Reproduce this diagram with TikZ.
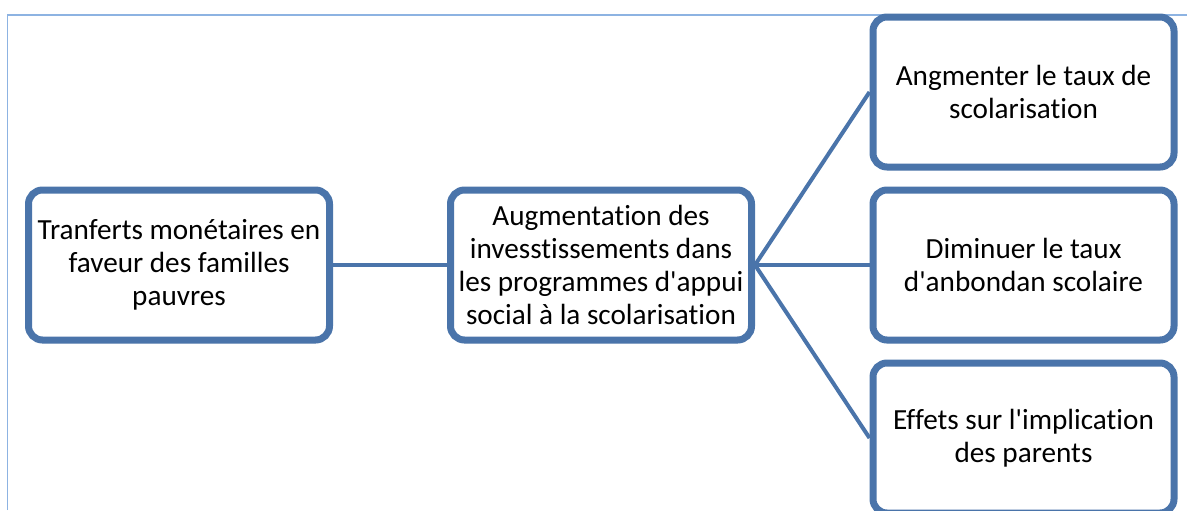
\documentclass[tikz,border=0pt]{standalone}
\usepackage{fontspec}
\newfontfamily\boxfont{Carlito}[Ligatures=CommonOff]
\usetikzlibrary{shadows}

\definecolor{boxblue}{RGB}{74,116,170}
\definecolor{frameblue}{RGB}{141,179,226}

\tikzset{
    stage/.style={draw=boxblue, line width=3.5pt, rounded corners=7pt, fill=white,
        minimum width=150.5pt, minimum height=75pt, align=center, inner sep=2pt,
        font=\boxfont\fontsize{14.6}{16.5}\selectfont,
        drop shadow={shadow xshift=0.4pt, shadow yshift=-1.6pt, opacity=0.22, fill=black}},
    link/.style={draw=boxblue, line width=2pt}
}

\begin{document}
\begin{tikzpicture}[x=0.5pt, y=-0.5pt]
    % --- Definitions for Proportions ---
    \def\midy{265}      % Row of the main chain
    \def\rightx{1023.5} % Column of the effects
    \def\gap{173}       % Vertical spacing of the effects

    % --- Canvas and frame ---
    \useasboundingbox (0,0) rectangle (1187,510);
    \draw[frameblue, line width=0.6pt] (7.5,510) -- (7.5,15) -- (1187,15);

    % --- Coordinates ---
    \coordinate (Src) at (179,\midy);              % Left box
    \coordinate (Hub) at (601,\midy);              % Centre box
    \coordinate (EffA) at (\rightx,\midy-\gap);    % Top right
    \coordinate (EffB) at (\rightx,\midy);         % Middle right
    \coordinate (EffC) at (\rightx,\midy+\gap);    % Bottom right

    % --- Boxes ---
    \node[stage] (transfers) at (Src) {Tranferts monétaires en\\faveur des familles\\pauvres};
    \node[stage] (invest) at (Hub) {Augmentation des\\invesstissements dans\\les programmes d'appui\\social à la scolarisation};
    \node[stage] (rate) at (EffA) {Angmenter le taux de\\scolarisation};
    \node[stage] (dropout) at (EffB) {Diminuer le taux\\d'anbondan scolaire};
    \node[stage] (parents) at (EffC) {Effets sur l'implication\\des parents};

    % --- Connectors ---
    \draw[link] (transfers.east) -- (invest.west);
    \draw[link] (invest.east) -- (rate.west);
    \draw[link] (invest.east) -- (dropout.west);
    \draw[link] (invest.east) -- (parents.west);

\end{tikzpicture}
\end{document}
